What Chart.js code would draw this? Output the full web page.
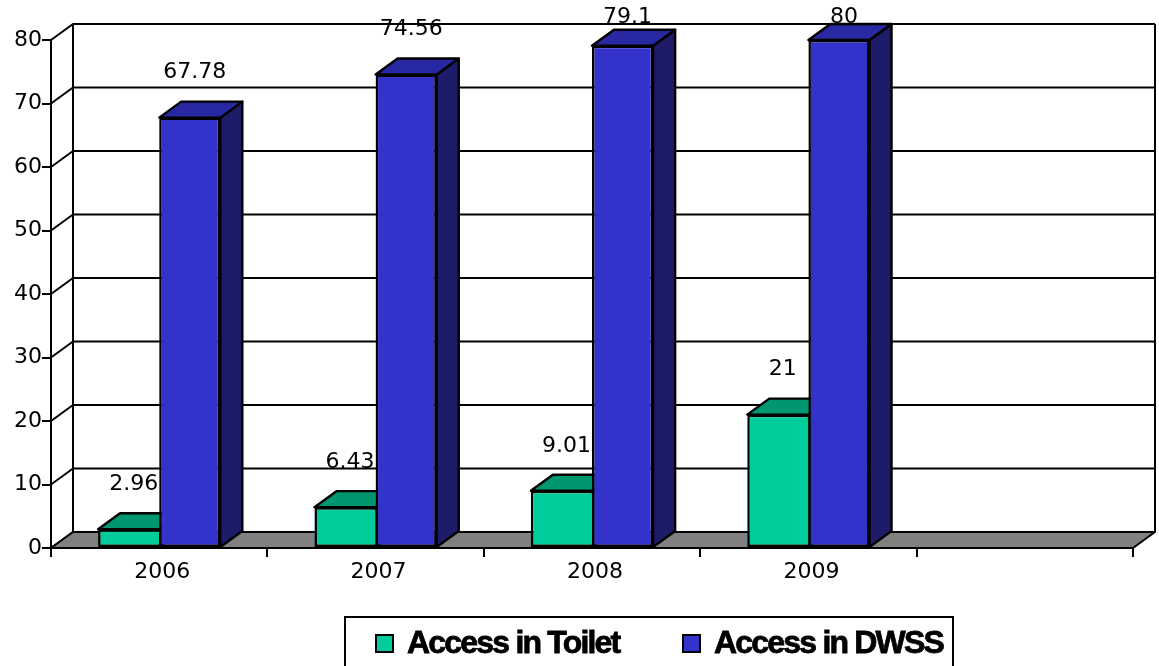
<!DOCTYPE html>
<html>
<head>
<meta charset="utf-8">
<script src="https://cdn.jsdelivr.net/npm/chart.js@4"></script>
<style>
  html, body { margin: 0; padding: 0; background: #fff; }
  canvas { display: block; }
</style>
</head>
<body>
<canvas id="accessChart" width="1159" height="666"></canvas>
<script>
// data
const years = ["2006", "2007", "2008", "2009", ""];
const toilet = [2.96, 6.43, 9.01, 21, null];
const dwss = [67.78, 74.56, 79.1, 80, null];
const yTicks = [0, 10, 20, 30, 40, 50, 60, 70, 80];

const frontColors = ["#00CC99", "#3333CC"];
const topColors = ["#00966F", "#2828A2"];
const sideColors = ["#006B50", "#1C1C68"];

// depth of the fake 3d box
const dx = 22;
const dy = -16;
const numFont = "22px 'DejaVu Sans'";

function poly(ctx, pts, fill) {
  ctx.beginPath();
  ctx.moveTo(pts[0][0], pts[0][1]);
  for (let i = 1; i < pts.length; i++) ctx.lineTo(pts[i][0], pts[i][1]);
  ctx.closePath();
  ctx.fillStyle = fill;
  ctx.fill();
  ctx.stroke();
}

const threeD = {
  id: "threeD",
  beforeDatasetsDraw(chart) {
    const ctx = chart.ctx;
    const a = chart.chartArea;
    const y = chart.scales.y;
    ctx.save();
    ctx.strokeStyle = "#000";
    ctx.lineWidth = 2;
    ctx.lineJoin = "round";

    // walls: left diagonals + back grid lines
    yTicks.forEach(v => {
      const py = y.getPixelForValue(v);
      ctx.beginPath();
      ctx.moveTo(a.left, py);
      ctx.lineTo(a.left + dx, py + dy);
      ctx.lineTo(a.right + dx, py + dy);
      ctx.stroke();
    });
    ctx.beginPath();
    ctx.moveTo(a.left + dx, a.top + dy);
    ctx.lineTo(a.left + dx, a.bottom + dy);
    ctx.moveTo(a.right + dx, a.top + dy);
    ctx.lineTo(a.right + dx, a.bottom + dy);
    ctx.stroke();

    // floor
    poly(ctx, [[a.left, a.bottom], [a.right, a.bottom], [a.right + dx, a.bottom + dy], [a.left + dx, a.bottom + dy]], "#808080");

    // tops and sides of the bars
    ctx.lineWidth = 2.4;
    chart.data.datasets.forEach((ds, i) => {
      chart.getDatasetMeta(i).data.forEach((bar, j) => {
        if (ds.data[j] == null) return;
        const p = bar.getProps(["x", "y", "base", "width"], true);
        const l = p.x - p.width / 2, r = p.x + p.width / 2;
        poly(ctx, [[r, p.y], [r + dx, p.y + dy], [r + dx, p.base + dy], [r, p.base]], sideColors[i]);
        poly(ctx, [[l, p.y], [r, p.y], [r + dx, p.y + dy], [l + dx, p.y + dy]], topColors[i]);
      });
    });

    // value labels (drawn before the fronts, so bars may cover them)
    ctx.font = numFont;
    ctx.fillStyle = "#000";
    ctx.textAlign = "center";
    ctx.textBaseline = "middle";
    chart.data.datasets.forEach((ds, i) => {
      chart.getDatasetMeta(i).data.forEach((bar, j) => {
        if (ds.data[j] == null) return;
        const p = bar.getProps(["x", "y"], true);
        ctx.fillText(String(ds.data[j]), p.x + 5, Math.max(p.y - 45, 17));
      });
    });
    ctx.restore();
  },
  afterDraw(chart) {
    // legend box
    const ctx = chart.ctx;
    ctx.save();
    ctx.strokeStyle = "#000";
    ctx.lineWidth = 2;
    ctx.strokeRect(345, 617, 608, 60);
    const items = [
      { label: chart.data.datasets[0].label, x: 376, color: frontColors[0] },
      { label: chart.data.datasets[1].label, x: 683, color: frontColors[1] }
    ];
    ctx.font = "bold 32px 'Liberation Sans'";
    ctx.letterSpacing = "-1.8px";
    ctx.textBaseline = "alphabetic";
    ctx.textAlign = "left";
    items.forEach(it => {
      ctx.lineWidth = 2;
      ctx.fillStyle = it.color;
      ctx.fillRect(it.x, 635, 17, 17);
      ctx.strokeRect(it.x, 635, 17, 17);
      ctx.fillStyle = "#000";
      ctx.lineWidth = 0.8;
      ctx.fillText(it.label, it.x + 31, 653);
      ctx.strokeText(it.label, it.x + 31, 653);
    });
    ctx.restore();
  }
};

const ctx = document.getElementById("accessChart").getContext("2d");

new Chart(ctx, {
  type: "bar",
  data: {
    labels: years,
    datasets: [
      {
        label: "Access in Toilet",
        data: toilet,
        backgroundColor: frontColors[0],
        borderColor: "#000",
        borderWidth: { left: 2.5, top: 2.5, bottom: 2.5, right: 0 },
        borderSkipped: false
      },
      {
        label: "Access in DWSS",
        data: dwss,
        backgroundColor: frontColors[1],
        borderColor: "#000",
        borderWidth: { left: 2.5, top: 2.5, bottom: 2.5, right: 2.5 },
        borderSkipped: false
      }
    ]
  },
  options: {
    responsive: false,
    animation: false,
    layout: { padding: { top: 40, right: 26, left: 0, bottom: 0 } },
    datasets: {
      bar: { categoryPercentage: 0.565, barPercentage: 1.0 }
    },
    plugins: {
      legend: { display: false },
      tooltip: { enabled: false }
    },
    scales: {
      x: {
        afterFit(s) { s.height = 118; },
        grid: { offset: true, drawOnChartArea: false, tickLength: 9, color: "#000", lineWidth: 2 },
        border: { display: true, color: "#000", width: 2 },
        ticks: { font: { family: "DejaVu Sans", size: 22 }, color: "#000", padding: 2, labelOffset: 3 }
      },
      y: {
        min: 0,
        max: 80,
        afterFit(s) { s.width = 51; },
        grid: { drawOnChartArea: false, tickLength: 9, color: "#000", lineWidth: 2 },
        border: { display: true, color: "#000", width: 2 },
        ticks: { stepSize: 10, font: { family: "DejaVu Sans", size: 22 }, color: "#000", padding: 0 }
      }
    }
  },
  plugins: [threeD]
});
</script>
</body>
</html>
